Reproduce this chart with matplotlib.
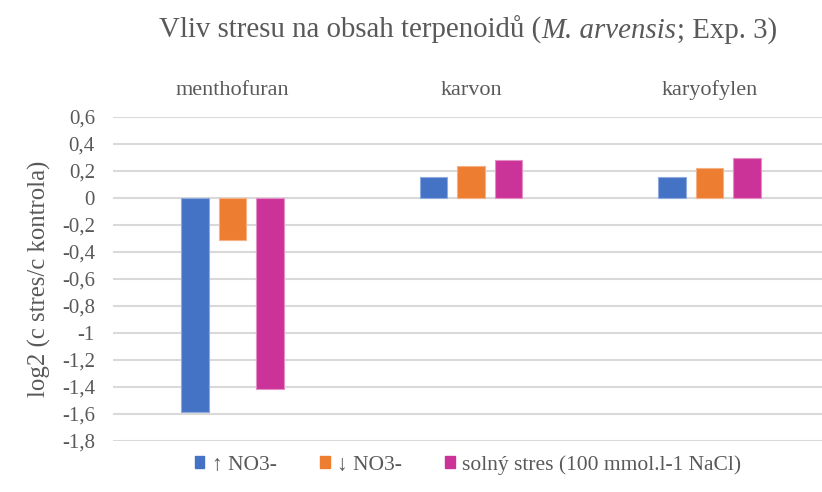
import matplotlib
matplotlib.use("Agg")
import matplotlib.pyplot as plt
from matplotlib.patches import Rectangle
import numpy as np

categories = ["menthofuran", "karvon", "karyofylen"]
series_names = ["\u2191 NO3-", "\u2193 NO3-", "solný stres (100 mmol.l-1 NaCl)"]
up_no3 = [-1.585, 0.156, 0.152]
down_no3 = [-0.31, 0.237, 0.224]
salt = [-1.412, 0.284, 0.298]
yticks = [0.6, 0.4, 0.2, 0.0, -0.2, -0.4, -0.6, -0.8, -1.0, -1.2, -1.4, -1.6, -1.8]
title_parts = ["Vliv stresu na obsah terpenoidů (", "M. arvensis", "; Exp. 3)"]

colors = ["#4472C4", "#ED7D31", "#CC3399"]
edges = ["#8FAADC", "#F4B183", "#E38FC5"]
text_color = "#595959"

plt.rcParams['font.family'] = ['Liberation Serif', 'DejaVu Serif']

fig = plt.figure(figsize=(8.22, 4.92), dpi=100)
ax = fig.add_axes([113/822, 1-441/492, (822-113)/822, (441-117)/492])

x = np.arange(len(categories))
width = 0.115
offset = 0.157
for i, vals in enumerate([up_no3, down_no3, salt]):
    ax.bar(x + (i-1)*offset, vals, width, color=colors[i], edgecolor=edges[i],
           linewidth=0.8, zorder=3)

ax.set_xlim(-0.501, 2.472)
ax.set_ylim(-1.8, 0.6)
ax.set_yticks(yticks)
ax.set_yticklabels([f"{v:g}".replace('.', ',') if abs(v) > 1e-9 else "0" for v in yticks])
ax.yaxis.grid(True, color="#D9D9D9", linewidth=1.5, zorder=0)
ax.set_axisbelow(True)
for s in ax.spines.values():
    s.set_visible(False)
ax.tick_params(axis='y', length=0, pad=13, labelsize=15, labelcolor=text_color)
ax.xaxis.tick_top()
ax.set_xticks(x)
ax.set_xticklabels(categories)
ax.tick_params(axis='x', length=0, pad=12, labelsize=16, labelcolor=text_color)

ax.set_ylabel("log2 (c stres/c kontrola)", fontsize=17.8, color=text_color, labelpad=8)

# Title in three pieces (normal / italic / normal)
tfs = 20.8
t1 = fig.text(0.2, 1-30/492, title_parts[0], fontsize=tfs, color=text_color,
              ha='left', va='center')
t2 = fig.add_artist(matplotlib.text.Annotation(title_parts[1], xy=(1, 0), xycoords=t1,
                    ha='left', va='bottom', fontsize=tfs, color=text_color, style='italic'))
t3 = fig.add_artist(matplotlib.text.Annotation(title_parts[2], xy=(1, 0), xycoords=t2,
                    ha='left', va='bottom', fontsize=tfs, color=text_color))
fig.canvas.draw()
r = fig.canvas.get_renderer()
b1 = t1.get_window_extent(r)
b3 = t3.get_window_extent(r)
total = b3.x1 - b1.x0
center_px = 468
t1.set_x((center_px - total/2) / fig.bbox.width)

handles = [Rectangle((0, 0), 1, 1, color=c) for c in colors]
fig.legend(handles, series_names, loc='center', bbox_to_anchor=(468/822, 1-465/492),
           ncol=3, frameon=False, fontsize=15.5, handlelength=0.45, handleheight=0.45,
           handletextpad=0.35, columnspacing=2.0, labelcolor=text_color)

fig.savefig("out.png", dpi=100)
